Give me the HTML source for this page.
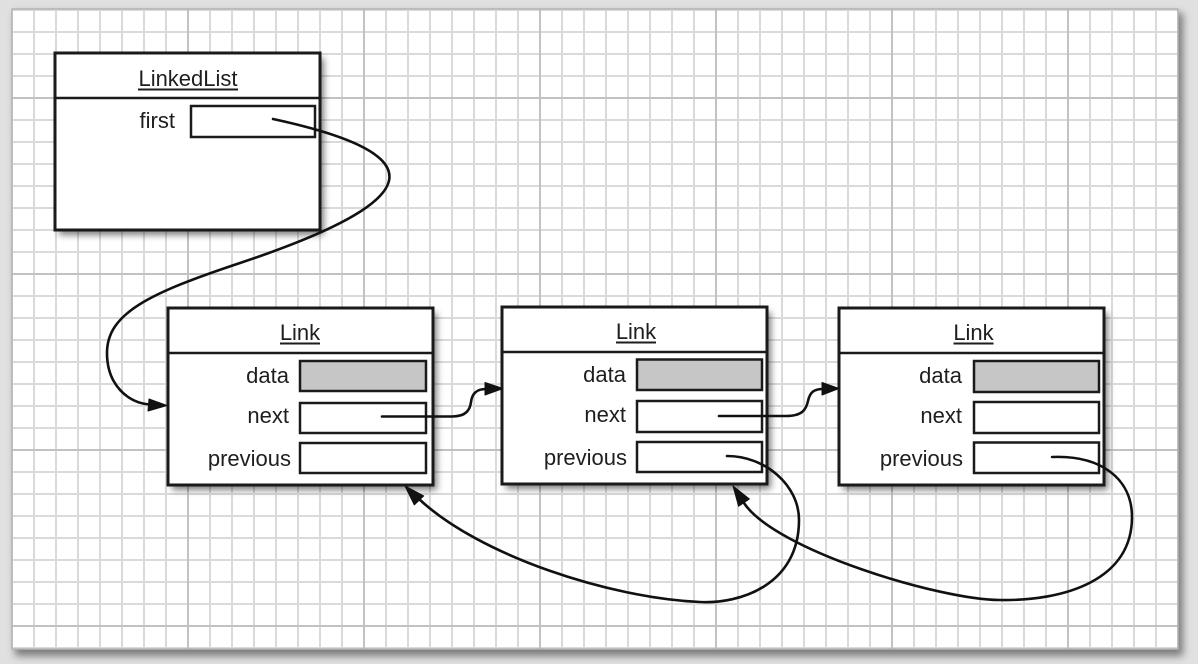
<!DOCTYPE html>
<html>
<head>
<meta charset="utf-8">
<style>
  html, body { margin: 0; padding: 0; background: #e0e0e0; }
  svg { display: block; }
  text { font-family: "Liberation Sans", Arial, sans-serif; font-size: 22px; fill: #1e1e1e; }
</style>
</head>
<body>
<svg width="1198" height="664" viewBox="0 0 1198 664" xmlns="http://www.w3.org/2000/svg">
  <defs>
    <pattern id="g" x="11" y="9" width="22" height="22" patternUnits="userSpaceOnUse">
      <path d="M0 1H22M1 0V22" stroke="#dadada" stroke-width="2" fill="none"/>
    </pattern>
    <filter id="psh" x="-5%" y="-5%" width="110%" height="115%">
      <feGaussianBlur stdDeviation="4"/>
    </filter>
    <filter id="sh" x="-10%" y="-10%" width="130%" height="130%">
      <feDropShadow dx="4" dy="5" stdDeviation="3.5" flood-color="#000" flood-opacity="0.5"/>
    </filter>
  </defs>

  <!-- outer background -->
  <rect x="0" y="0" width="1198" height="664" fill="#e0e0e0"/>
  <!-- panel shadow -->
  <rect x="15" y="13" width="1168" height="643" fill="#5a5a5a" opacity="0.75" filter="url(#psh)"/>
  <!-- panel -->
  <rect x="12" y="9" width="1166" height="640" fill="#ffffff"/>
  <rect x="12" y="9" width="1166" height="640" fill="url(#g)"/>
  <!-- major grid lines -->
  <g stroke="#c2c2c2" stroke-width="2">
    <line x1="188" y1="9" x2="188" y2="649"/>
    <line x1="364" y1="9" x2="364" y2="649"/>
    <line x1="540" y1="9" x2="540" y2="649"/>
    <line x1="716" y1="9" x2="716" y2="649"/>
    <line x1="892" y1="9" x2="892" y2="649"/>
    <line x1="1068" y1="9" x2="1068" y2="649"/>
    <line x1="12" y1="98" x2="1178" y2="98"/>
    <line x1="12" y1="274" x2="1178" y2="274"/>
    <line x1="12" y1="450" x2="1178" y2="450"/>
    <line x1="12" y1="626" x2="1178" y2="626"/>
  </g>
  <rect x="12" y="9" width="1166" height="640" fill="none" stroke="#b4b4b4" stroke-width="1.5"/>

  <!-- LinkedList box -->
  <rect x="55" y="53" width="265" height="177" fill="#fff" filter="url(#sh)"/>
  <rect x="55" y="53" width="265" height="177" fill="none" stroke="#1a1a1a" stroke-width="3"/>
  <line x1="55" y1="98" x2="320" y2="98" stroke="#1a1a1a" stroke-width="2.5"/>
  <text x="188" y="86" text-anchor="middle">LinkedList</text>
  <line x1="138" y1="89.5" x2="238" y2="89.5" stroke="#1e1e1e" stroke-width="2"/>
  <text x="175" y="128" text-anchor="end">first</text>
  <rect x="191" y="106" width="124" height="31" fill="#fff" stroke="#1a1a1a" stroke-width="2.5"/>

  <!-- Link 1 -->
  <rect x="168" y="308" width="265" height="177" fill="#fff" filter="url(#sh)"/>
  <rect x="168" y="308" width="265" height="177" fill="none" stroke="#1a1a1a" stroke-width="3"/>
  <line x1="168" y1="353" x2="433" y2="353" stroke="#1a1a1a" stroke-width="2.5"/>
  <text x="300" y="340" text-anchor="middle">Link</text>
  <line x1="280" y1="343.5" x2="320" y2="343.5" stroke="#1e1e1e" stroke-width="2"/>
  <text x="289" y="383" text-anchor="end">data</text>
  <text x="289" y="423" text-anchor="end">next</text>
  <text x="291" y="466" text-anchor="end">previous</text>
  <rect x="300" y="361" width="126" height="30" fill="#c6c6c6" stroke="#1a1a1a" stroke-width="2.5"/>
  <rect x="300" y="403" width="126" height="30" fill="#fff" stroke="#1a1a1a" stroke-width="2.5"/>
  <rect x="300" y="443" width="126" height="30" fill="#fff" stroke="#1a1a1a" stroke-width="2.5"/>

  <!-- Link 2 -->
  <rect x="502" y="307" width="265" height="177" fill="#fff" filter="url(#sh)"/>
  <rect x="502" y="307" width="265" height="177" fill="none" stroke="#1a1a1a" stroke-width="3"/>
  <line x1="502" y1="352" x2="767" y2="352" stroke="#1a1a1a" stroke-width="2.5"/>
  <text x="636" y="339" text-anchor="middle">Link</text>
  <line x1="616" y1="342.5" x2="656" y2="342.5" stroke="#1e1e1e" stroke-width="2"/>
  <text x="626" y="382" text-anchor="end">data</text>
  <text x="626" y="422" text-anchor="end">next</text>
  <text x="627" y="465" text-anchor="end">previous</text>
  <rect x="637" y="359.5" width="125" height="30.5" fill="#c6c6c6" stroke="#1a1a1a" stroke-width="2.5"/>
  <rect x="637" y="401" width="125" height="31" fill="#fff" stroke="#1a1a1a" stroke-width="2.5"/>
  <rect x="637" y="442" width="125" height="30" fill="#fff" stroke="#1a1a1a" stroke-width="2.5"/>

  <!-- Link 3 -->
  <rect x="839" y="308" width="265" height="177" fill="#fff" filter="url(#sh)"/>
  <rect x="839" y="308" width="265" height="177" fill="none" stroke="#1a1a1a" stroke-width="3"/>
  <line x1="839" y1="353" x2="1104" y2="353" stroke="#1a1a1a" stroke-width="2.5"/>
  <text x="973.5" y="340" text-anchor="middle">Link</text>
  <line x1="953.5" y1="343.5" x2="993.5" y2="343.5" stroke="#1e1e1e" stroke-width="2"/>
  <text x="962" y="383" text-anchor="end">data</text>
  <text x="962" y="423" text-anchor="end">next</text>
  <text x="963" y="466" text-anchor="end">previous</text>
  <rect x="974" y="361" width="125" height="31" fill="#c6c6c6" stroke="#1a1a1a" stroke-width="2.5"/>
  <rect x="974" y="402" width="125" height="31" fill="#fff" stroke="#1a1a1a" stroke-width="2.5"/>
  <rect x="974" y="442.5" width="125" height="30.5" fill="#fff" stroke="#1a1a1a" stroke-width="2.5"/>

  <!-- connectors -->
  <g fill="none" stroke="#111" stroke-width="2.6" stroke-linecap="round">
    <!-- first -> Link1 -->
    <path d="M273,119 C440,155 426,201 240,263 C150,293 107,313 107,353 C107,385 128,403 150,404.5"/>
    <!-- Link1.next -> Link2 -->
    <path d="M382,416.5 H452 C466,416.5 470,410 471,402 C472,394 476,389 486,389"/>
    <!-- Link2.next -> Link3 -->
    <path d="M719,416 H786 C802,416 806,410 808,401 C810,392 814,389 823,389"/>
    <!-- Link2.previous -> Link1 -->
    <path d="M727,456 C765,456 799,485 799,520 C799,585 740,604 700,602 C610,598 480,556 419,499"/>
    <!-- Link3.previous -> Link2 -->
    <path d="M1052,457 C1100,455 1132,478 1132,517 C1132,580 1065,601 1000,600 C940,600 775,550 744,503"/>
  </g>
  <g fill="#111" stroke="#111" stroke-width="1" stroke-linejoin="round">
    <polygon points="167,405.5 149,399 148,411"/>
    <polygon points="503,388.5 485,382.5 485,395"/>
    <polygon points="839,388.5 822,382.5 822,395"/>
    <polygon points="405,486 423.7,495.9 414.3,504.9"/>
    <polygon points="733,486 749.4,499 738.6,506.2"/>
  </g>
</svg>
</body>
</html>
